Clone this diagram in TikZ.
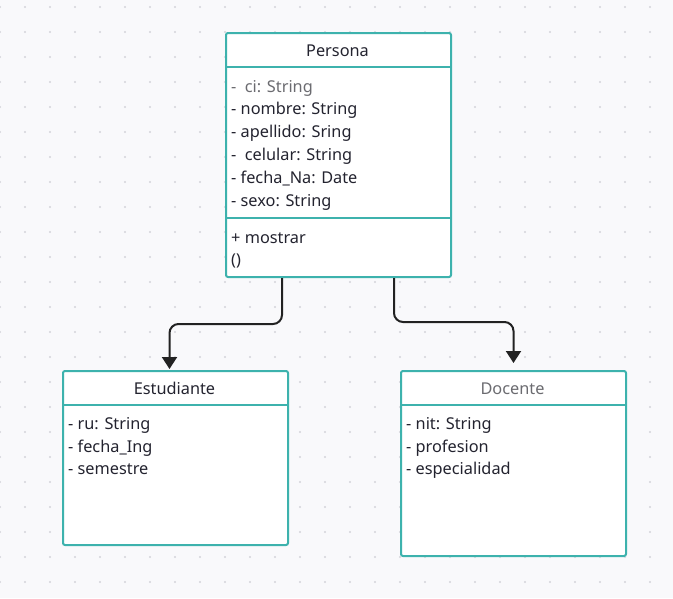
\documentclass[tikz,border=0pt]{standalone}
\usepackage{fontspec}
\setmainfont{Noto Sans}
\usetikzlibrary{arrows.meta}
\definecolor{bg}{HTML}{F9F9FB}
\definecolor{dotc}{HTML}{D4D4DA}
\definecolor{teal}{HTML}{3DB2AD}
\definecolor{txt}{HTML}{23232F}
\definecolor{gtxt}{HTML}{6B6B70}
\definecolor{arrc}{HTML}{222222}
\begin{document}
\begin{tikzpicture}[x=1pt,y=-1pt,
  cls/.style={draw=teal, line width=2pt, fill=white, rounded corners=2pt, inner sep=0pt, anchor=north west},
  divline/.style={draw=teal, line width=2pt},
  attr/.style={anchor=west, inner sep=0pt, text height=11pt, text depth=3pt, font=\fontsize{16.3}{19}\selectfont, text=txt},
  ttl/.style={anchor=center, inner sep=0pt, text height=11pt, text depth=3pt, font=\fontsize{16.3}{19}\selectfont, text=txt},
  arr/.style={draw=arrc, line width=2pt, rounded corners=9pt, -{Triangle[width=15pt,length=12pt]}}
]
\fill[bg] (0,0) rectangle (673,598);
\useasboundingbox (0,0) rectangle (673,598);
\foreach \i in {0,...,26}{
  \foreach \j in {0,...,23}{
    \fill[dotc] (25*\i,7+25*\j) circle (1.1pt);
  }
}
% Persona
\node[cls, minimum width=225pt, minimum height=244pt] (persona) at (225,32) {};
\draw[divline] ([yshift=-35pt]persona.north west) -- ([yshift=-35pt]persona.north east);
\draw[divline] ([yshift=-186pt]persona.north west) -- ([yshift=-186pt]persona.north east);
\node[ttl] (ptitle) at (337.5,52) {Persona};
\node[attr, text=gtxt] (p1) at (231,88) {-\ \ ci: String};
\node[attr] (p2) at (231,110) {- nombre: String};
\node[attr] (p3) at (231,133) {- apellido: Sring};
\node[attr] (p4) at (231,156) {-\ \ celular: String};
\node[attr] (p5) at (231,179) {- fecha\_Na: Date};
\node[attr] (p6) at (231,202) {- sexo: String};
\node[attr] (p7) at (231,239) {+ mostrar};
\node[attr] (p8) at (231,261) {()};
% Estudiante
\node[cls, minimum width=225pt, minimum height=174pt] (est) at (62,370) {};
\draw[divline] ([yshift=-35pt]est.north west) -- ([yshift=-35pt]est.north east);
\node[ttl] (etitle) at (174.5,390) {Estudiante};
\node[attr] (e1) at (68,425) {- ru: String};
\node[attr] (e2) at (68,448) {- fecha\_Ing};
\node[attr] (e3) at (68,470) {- semestre};
% Docente
\node[cls, minimum width=225pt, minimum height=185pt] (doc) at (400,370) {};
\draw[divline] ([yshift=-35pt]doc.north west) -- ([yshift=-35pt]doc.north east);
\node[ttl, text=gtxt] (dtitle) at (512.5,390) {Docente};
\node[attr] (d1) at (406,425) {- nit: String};
\node[attr] (d2) at (406,448) {- profesion};
\node[attr] (d3) at (406,470) {- especialidad};
% connectors
\draw[arr] ([xshift=57pt]persona.south west) |- ++(-60,46) -| ([xshift=-6pt,yshift=1pt]est.north);
\draw[arr] ([xshift=169pt]persona.south west) |- ++(60,44) -| ([yshift=7pt]doc.north);
\end{tikzpicture}
\end{document}
